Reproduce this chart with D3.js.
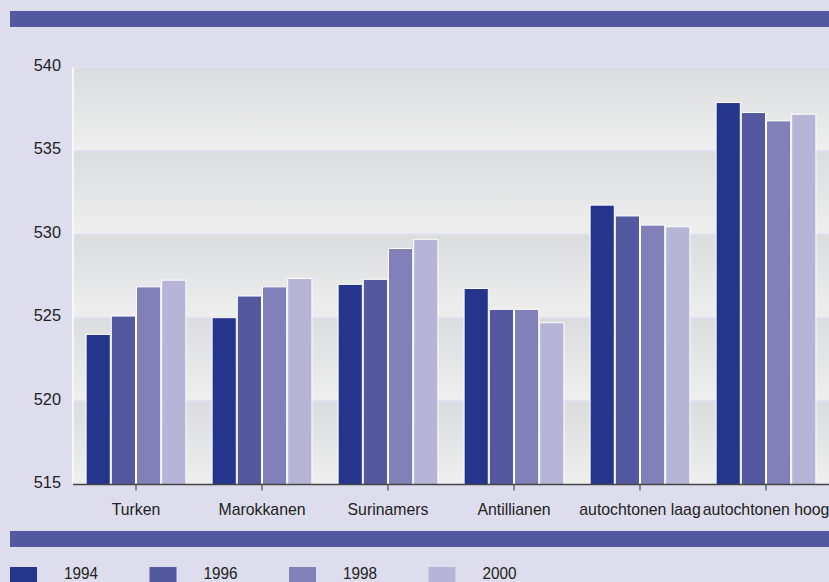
<!DOCTYPE html>
<html><head><meta charset="utf-8">
<script src="https://cdn.jsdelivr.net/npm/d3@7"></script>
<style>
html,body{margin:0;padding:0;background:#dedded;overflow:hidden}
svg{display:block}
text{font-family:"Liberation Sans",Arial,sans-serif;fill:#222}
</style></head><body>
<svg id="c" width="829" height="582"></svg>
<script>
const categories = ["Turken","Marokkanen","Surinamers","Antillianen","autochtonen laag","autochtonen hoog"];
const years = ["1994","1996","1998","2000"];
const v1994 = [524.0, 525.0, 527.0, 526.75, 531.75, 537.9];
const v1996 = [525.1, 526.3, 527.3, 525.5, 531.1, 537.3];
const v1998 = [526.85, 526.85, 529.15, 525.5, 530.55, 536.8];
const v2000 = [527.25, 527.35, 529.7, 524.7, 530.45, 537.2];
const yTicks = [515, 520, 525, 530, 535, 540];
const colors = ["#25358b", "#53589f", "#8180b9", "#b6b5d8"];

const series = [v1994, v1996, v1998, v2000];
const svg = d3.select("#c");
const W = 829, H = 582;

// top & bottom decorative bars
svg.append("rect").attr("x", 10).attr("y", 11).attr("width", W - 10).attr("height", 16).attr("fill", "#53599f");
svg.append("rect").attr("x", 10).attr("y", 531).attr("width", W - 10).attr("height", 16).attr("fill", "#53599f");

const x0 = d3.scaleBand().domain(categories).range([73, 829]).paddingInner(0.2).paddingOuter(0.1);
const x1 = d3.scaleBand().domain(years).range([0, x0.bandwidth()]);
const y = d3.scaleLinear().domain([515, 540]).range([484.5, 67.5]);

// gradient bands
const defs = svg.append("defs");
const g = defs.append("linearGradient").attr("id", "bandg").attr("x1", 0).attr("y1", 0).attr("x2", 0).attr("y2", 1);
g.append("stop").attr("offset", "0%").attr("stop-color", "#dbdcde");
g.append("stop").attr("offset", "100%").attr("stop-color", "#efefef");

const bands = d3.pairs(yTicks);
svg.append("g").selectAll("rect").data(bands).join("rect")
  .attr("x", 74).attr("width", 829 - 74)
  .attr("y", d => y(d[1]))
  .attr("height", d => y(d[0]) - y(d[1]))
  .attr("fill", "url(#bandg)");
svg.append("g").selectAll("line").data(yTicks.slice(1)).join("line")
  .attr("x1", 74).attr("x2", 829)
  .attr("y1", d => y(d)).attr("y2", d => y(d))
  .attr("stroke", "#e2e0f0").attr("stroke-width", 2);

// bars
const grp = svg.append("g").selectAll("g").data(categories).join("g")
  .attr("transform", c => `translate(${x0(c)},0)`);
grp.selectAll("rect").data((c, i) => years.map((yr, j) => ({ yr, v: series[j][i], j })))
  .join("rect")
  .attr("x", d => x1(d.yr) + 0.5)
  .attr("width", x1.bandwidth() - 1)
  .attr("y", d => y(d.v))
  .attr("height", d => y(515) - y(d.v))
  .attr("fill", d => colors[d.j])
  .attr("stroke", "#ffffff").attr("stroke-width", 1);

// y axis white line
svg.append("line").attr("x1", 73).attr("x2", 73).attr("y1", y(540)).attr("y2", y(515))
  .attr("stroke", "#ffffff").attr("stroke-width", 1.5);

// y labels
svg.append("g").selectAll("text").data(yTicks).join("text")
  .attr("transform", d => `translate(61,${y(d) + 3.5}) scale(1.02,1)`)
  .attr("text-anchor", "end")
  .style("font-size", "16px")
  .text(d => d);

// x axis
const xa = svg.append("g").attr("transform", `translate(0,${y(515)})`);
xa.append("line").attr("x1", 73).attr("x2", 829).attr("stroke", "#444").attr("stroke-width", 1.5);
xa.selectAll("line.t").data(categories).join("line").attr("class", "t")
  .attr("x1", c => x0(c) + x0.bandwidth() / 2).attr("x2", c => x0(c) + x0.bandwidth() / 2)
  .attr("y1", 0).attr("y2", 6).attr("stroke", "#333").attr("stroke-width", 1);
xa.selectAll("text").data(categories).join("text")
  .attr("transform", c => `translate(${x0(c) + x0.bandwidth() / 2},30.5) scale(0.99,1)`)
  .attr("text-anchor", "middle").style("font-size", "16px")
  .text(c => c);

// legend
const lg = d3.scalePoint().domain(years).range([10, 10 + 3 * 139.5]);
const li = svg.append("g").selectAll("g").data(years).join("g")
  .attr("transform", d => `translate(${lg(d)},0)`);
li.append("rect").attr("x", 0).attr("y", 567).attr("width", 27).attr("height", 16)
  .attr("fill", (d, i) => colors[i]);
li.append("text").attr("transform", "translate(54,579) scale(0.9,1)").style("font-size", "17px").text(d => d);
</script>
</body></html>
